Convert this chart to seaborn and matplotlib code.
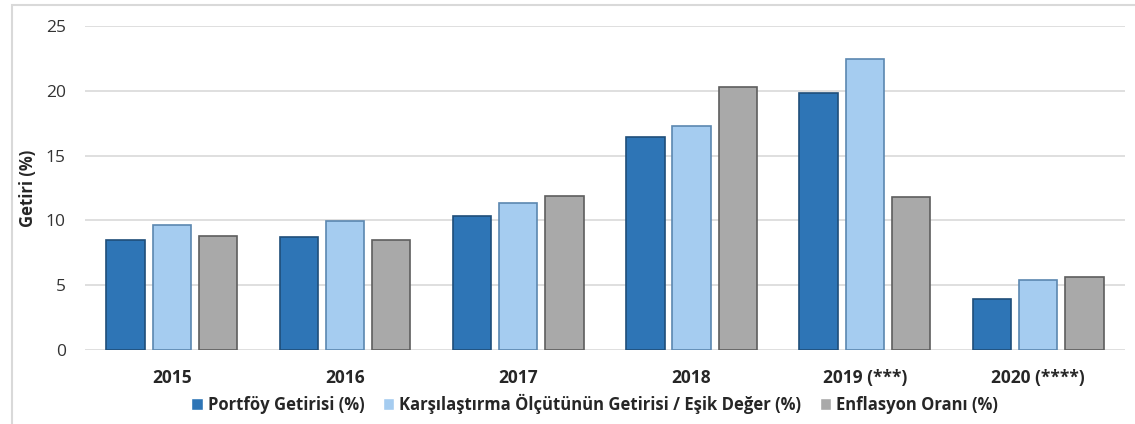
import numpy as np
import pandas as pd
import matplotlib.pyplot as plt
import seaborn as sns
from matplotlib.patches import Rectangle

# Data

years = ['2015', '2016', '2017', '2018', '2019 (***)', '2020 (****)']
portfoy = [8.5, 8.7, 10.3, 16.4, 19.8, 3.9]
karsilastirma = [9.65, 9.95, 11.3, 17.3, 22.45, 5.4]
enflasyon = [8.8, 8.5, 11.9, 20.3, 11.8, 5.6]
series = ['Portföy Getirisi (%)',
          'Karşılaştırma Ölçütünün Getirisi / Eşik Değer (%)',
          'Enflasyon Oranı (%)']
colors = ['#2E75B6', '#A5CCF0', '#A9A9A9']
edges = ['#1F4E79', '#5B87B0', '#5E5E5E']

df = pd.DataFrame({'year': years * 3,
                   'value': portfoy + karsilastirma + enflasyon,
                   'series': [s for s in series for _ in years]})

sns.set_style('white')
plt.rcParams['font.family'] = ['Open Sans', 'DejaVu Sans']

fig = plt.figure(figsize=(11.35, 4.24), dpi=100)
ax = fig.add_axes([0.075, 0.1745, 0.916, 0.7645])

sns.barplot(data=df, x='year', y='value', hue='series', palette=colors,
            saturation=1, width=0.8, gap=0.17, ax=ax, legend=True, zorder=3)

# darker edges to hint at the bevel look
for i, cont in enumerate(ax.containers):
    for bar in cont:
        bar.set_edgecolor(edges[i])
        bar.set_linewidth(1.2)

ax.set_ylim(0, 25)
ax.set_xlim(-0.5, 5.5)
ax.set_yticks([0, 5, 10, 15, 20, 25])
ax.yaxis.grid(True, color='#D9D9D9', linewidth=1.2, zorder=0)
for s in ax.spines.values():
    s.set_visible(False)
ax.tick_params(axis='both', length=0)
ax.tick_params(axis='y', labelsize=12.5, colors='#333333', pad=14)
ax.tick_params(axis='x', labelsize=12.5, pad=14)
for t in ax.get_xticklabels():
    t.set_fontweight('bold')
ax.set_xlabel('')
ax.set_ylabel('Getiri (%)', fontsize=12, fontweight='bold', labelpad=6)

leg = ax.legend(loc='upper center', bbox_to_anchor=(0.49, -0.115), ncol=3,
                frameon=False, fontsize=12, handlelength=0.7, handleheight=0.7,
                handletextpad=0.3, columnspacing=1.1, borderaxespad=0)
for t in leg.get_texts():
    t.set_fontweight('bold')

fig.patches.append(Rectangle((12 / 1135, -0.1), 1.2, 1 - 5 / 424 + 0.1,
                             transform=fig.transFigure, fill=False,
                             edgecolor='#D9D9D9', linewidth=1.5))

plt.savefig('out.png', dpi=100)
plt.close()
